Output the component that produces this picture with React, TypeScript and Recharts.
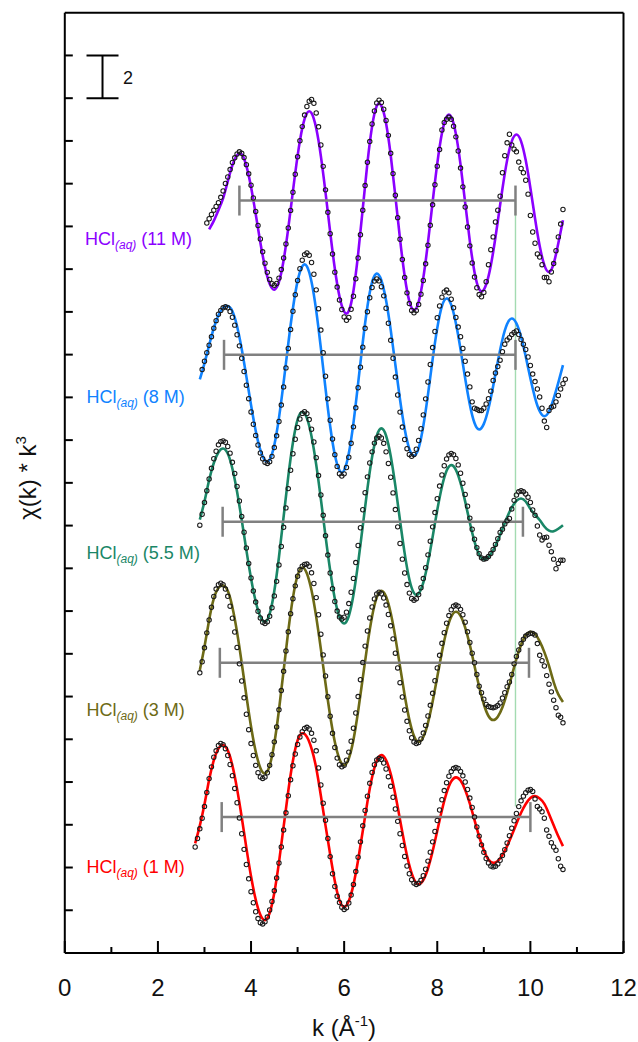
import React from "react";
import { ComposedChart, Line, Scatter, XAxis, YAxis, ErrorBar, ReferenceLine } from "recharts";

const FONT = "'Liberation Sans', Arial, sans-serif";

// k grid of the measured points (0.05 step) and of the fitted curves (0.1 step)
const kObs = [
  2.8, 2.85, 2.9, 2.95, 3, 3.05, 3.1, 3.15, 3.2, 3.25,
  3.3, 3.35, 3.4, 3.45, 3.5, 3.55, 3.6, 3.65, 3.7, 3.75,
  3.8, 3.85, 3.9, 3.95, 4, 4.05, 4.1, 4.15, 4.2, 4.25,
  4.3, 4.35, 4.4, 4.45, 4.5, 4.55, 4.6, 4.65, 4.7, 4.75,
  4.8, 4.85, 4.9, 4.95, 5, 5.05, 5.1, 5.15, 5.2, 5.25,
  5.3, 5.35, 5.4, 5.45, 5.5, 5.55, 5.6, 5.65, 5.7, 5.75,
  5.8, 5.85, 5.9, 5.95, 6, 6.05, 6.1, 6.15, 6.2, 6.25,
  6.3, 6.35, 6.4, 6.45, 6.5, 6.55, 6.6, 6.65, 6.7, 6.75,
  6.8, 6.85, 6.9, 6.95, 7, 7.05, 7.1, 7.15, 7.2, 7.25,
  7.3, 7.35, 7.4, 7.45, 7.5, 7.55, 7.6, 7.65, 7.7, 7.75,
  7.8, 7.85, 7.9, 7.95, 8, 8.05, 8.1, 8.15, 8.2, 8.25,
  8.3, 8.35, 8.4, 8.45, 8.5, 8.55, 8.6, 8.65, 8.7, 8.75,
  8.8, 8.85, 8.9, 8.95, 9, 9.05, 9.1, 9.15, 9.2, 9.25,
  9.3, 9.35, 9.4, 9.45, 9.5, 9.55, 9.6, 9.65, 9.7, 9.75,
  9.8, 9.85, 9.9, 9.95, 10, 10.05, 10.1, 10.15, 10.2, 10.25,
  10.3, 10.35, 10.4, 10.45, 10.5, 10.55, 10.6, 10.65, 10.7, 10.75,
];

const kFit = [
  2.8, 2.9, 3, 3.1, 3.2, 3.3, 3.4, 3.5, 3.6, 3.7,
  3.8, 3.9, 4, 4.1, 4.2, 4.3, 4.4, 4.5, 4.6, 4.7,
  4.8, 4.9, 5, 5.1, 5.2, 5.3, 5.4, 5.5, 5.6, 5.7,
  5.8, 5.9, 6, 6.1, 6.2, 6.3, 6.4, 6.5, 6.6, 6.7,
  6.8, 6.9, 7, 7.1, 7.2, 7.3, 7.4, 7.5, 7.6, 7.7,
  7.8, 7.9, 8, 8.1, 8.2, 8.3, 8.4, 8.5, 8.6, 8.7,
  8.8, 8.9, 9, 9.1, 9.2, 9.3, 9.4, 9.5, 9.6, 9.7,
  9.8, 9.9, 10, 10.1, 10.2, 10.3, 10.4, 10.5, 10.6, 10.7,
];

// chi(k)*k^3, measured
const obs1M = [
  -1.4, -1.0, -0.55, -0.05, 0.5, 1.15, 1.8, 2.35, 2.8, 3.1,
  3.35, 3.45, 3.39, 3.2, 2.88, 2.46, 1.94, 1.34, 0.67, -0.04,
  -0.78, -1.51, -2.22, -2.89, -3.49, -4.01, -4.43, -4.75, -4.94, -5.0,
  -4.9, -4.68, -4.35, -3.95, -3.45, -2.85, -2.15, -1.4, -0.6, 0.2,
  1.0, 1.75, 2.4, 2.95, 3.4, 3.75, 4.0, 4.15, 4.2, 4.12,
  3.92, 3.6, 3.1, 2.3, 1.5, 0.65, -0.15, -1.0, -1.85, -2.65,
  -3.25, -3.7, -4.0, -4.22, -4.32, -4.24, -4.02, -3.65, -3.15, -2.55,
  -1.88, -1.16, -0.41, 0.31, 0.98, 1.58, 2.09, 2.45, 2.67, 2.75,
  2.69, 2.53, 2.25, 1.89, 1.44, 0.93, 0.38, -0.2, -0.78, -1.33,
  -1.84, -2.29, -2.65, -2.93, -3.09, -3.15, -3.1, -2.96, -2.74, -2.44,
  -2.06, -1.64, -1.16, -0.67, -0.16, 0.33, 0.81, 1.24, 1.61, 1.91,
  2.13, 2.27, 2.32, 2.28, 2.14, 1.93, 1.64, 1.29, 0.89, 0.45,
  0.0, -0.46, -0.89, -1.3, -1.65, -1.94, -2.15, -2.29, -2.33, -2.3,
  -2.19, -2.02, -1.8, -1.53, -1.21, -0.87, -0.52, -0.17, 0.17, 0.49,
  0.76, 0.98, 1.14, 1.26, 1.29, 1.2, 0.85, 0.5, 0.38, 0.25,
  -0.05, -0.6, -0.9, -1.2, -1.4, -1.55, -1.95, -2.3, -2.45, null,
];

const obs3M = [
  null, null, -0.47, 0.05, 0.7, 1.4, 2.0, 2.6, 3.1, 3.45,
  3.65, 3.72, 3.65, 3.45, 3.11, 2.65, 2.09, 1.44, 0.72, -0.05,
  -0.85, -1.64, -2.41, -3.13, -3.78, -4.34, -4.8, -5.14, -5.34, -5.41,
  -5.35, -5.15, -4.8, -4.3, -3.7, -3.0, -2.2, -1.3, -0.4, 0.55,
  1.45, 2.3, 3.0, 3.6, 4.05, 4.35, 4.52, 4.6, 4.62, 4.52,
  4.21, 3.71, 3.05, 2.25, 1.34, 0.37, -0.62, -1.59, -2.5, -3.3,
  -3.96, -4.46, -4.77, -4.87, -4.79, -4.56, -4.18, -3.67, -3.06, -2.35,
  -1.58, -0.79, 0.01, 0.78, 1.49, 2.1, 2.61, 2.99, 3.22, 3.3,
  3.23, 3.03, 2.7, 2.26, 1.73, 1.12, 0.45, -0.24, -0.93, -1.6,
  -2.21, -2.74, -3.18, -3.51, -3.71, -3.78, -3.73, -3.56, -3.29, -2.93,
  -2.49, -1.99, -1.43, -0.84, -0.24, 0.35, 0.91, 1.41, 1.85, 2.21,
  2.48, 2.65, 2.7, 2.65, 2.5, 2.25, 1.9, 1.45, 0.95, 0.45,
  0.0, -0.55, -1.1, -1.4, -1.7, -1.95, -2.05, -2.08, -2.1, -2.07,
  -2.0, -1.88, -1.65, -1.4, -1.12, -0.9, -0.55, -0.05, 0.3, 0.6,
  0.9, 1.1, 1.25, 1.33, 1.38, 1.37, 1.3, 0.9, 0.35, 0.1,
  -0.15, -0.6, -1.0, -1.36, -1.75, -2.1, -2.45, -2.55, -2.81, null,
];

const obs55M = [
  null, null, -0.16, 0.35, 0.9, 1.45, 2.0, 2.5, 2.95, 3.3,
  3.6, 3.75, 3.78, 3.72, 3.52, 3.21, 2.78, 2.26, 1.65, 0.97,
  0.25, -0.49, -1.23, -1.95, -2.63, -3.24, -3.76, -4.19, -4.5, -4.7,
  -4.76, -4.68, -4.42, -4.02, -3.47, -2.79, -2.02, -1.16, -0.26, 0.65,
  1.55, 2.41, 3.18, 3.86, 4.41, 4.81, 5.07, 5.15, 5.06, 4.78,
  4.33, 3.73, 3.0, 2.16, 1.25, 0.3, -0.65, -1.56, -2.4, -3.13,
  -3.73, -4.18, -4.46, -4.55, -4.47, -4.23, -3.83, -3.3, -2.65, -1.91,
  -1.11, -0.28, 0.56, 1.36, 2.1, 2.75, 3.27, 3.68, 3.92, 4.0,
  3.92, 3.67, 3.27, 2.73, 2.08, 1.35, 0.57, -0.24, -1.02, -1.75,
  -2.4, -2.94, -3.34, -3.59, -3.67, -3.6, -3.41, -3.09, -2.66, -2.15,
  -1.55, -0.91, -0.24, 0.43, 1.08, 1.67, 2.19, 2.62, 2.94, 3.13,
  3.2, 3.14, 2.96, 2.66, 2.27, 1.8, 1.28, 0.73, 0.17, -0.35,
  -0.82, -1.21, -1.5, -1.69, -1.75, -1.72, -1.63, -1.49, -1.3, -1.06,
  -0.79, -0.5, -0.35, -0.1, 0.05, 0.15, 0.6, 1.0, 1.25, 1.4,
  1.45, 1.4, 1.3, 1.15, 0.9, 0.55, 0.3, -0.2, -0.62, -0.85,
  -0.75, -0.72, -1.1, -1.4, -1.75, -2.2, -1.95, -1.8, -1.8, null,
];

const obs8M = [
  null, null, null, -0.69, -0.3, 0.1, 0.45, 0.85, 1.25, 1.6,
  1.9, 2.08, 2.2, 2.25, 2.2, 2.03, 1.76, 1.39, 0.94, 0.42,
  -0.16, -0.78, -1.42, -2.05, -2.67, -3.25, -3.77, -4.22, -4.59, -4.86,
  -5.03, -5.08, -5.0, -4.75, -4.34, -3.79, -3.12, -2.35, -1.5, -0.61,
  0.3, 1.19, 2.04, 2.81, 3.48, 4.03, 4.43, 4.69, 4.77, 4.66,
  4.32, 3.77, 3.04, 2.16, 1.16, 0.1, -1.0, -2.06, -3.06, -3.94,
  -4.67, -5.22, -5.56, -5.67, -5.57, -5.27, -4.79, -4.14, -3.37, -2.48,
  -1.54, -0.58, 0.36, 1.24, 2.02, 2.67, 3.15, 3.45, 3.55, 3.46,
  3.19, 2.76, 2.18, 1.48, 0.68, -0.16, -1.04, -1.88, -2.68, -3.38,
  -3.96, -4.39, -4.66, -4.75, -4.66, -4.42, -4.01, -3.46, -2.81, -2.06,
  -1.27, -0.45, 0.34, 1.09, 1.74, 2.29, 2.7, 2.94, 3.03, 2.9,
  2.6, 2.2, 1.75, 1.3, 0.85, 0.3, -0.3, -0.9, -1.5, -2.2,
  -2.5, -2.55, -2.6, -2.6, -2.5, -2.3, -2.05, -1.7, -1.2, -0.85,
  -0.55, -0.25, 0.15, 0.5, 0.7, 0.8, 0.95, 1.05, 1.12, 0.95,
  0.72, 0.5, 0.25, -0.1, -0.5, -0.9, -1.25, -1.6, -1.97, -2.5,
  -3.1, -3.4, -2.6, -2.45, -2.4, -2.2, -1.9, -1.6, -1.35, -1.14,
];

const obs11M = [
  null, null, null, null, null, -1.05, -0.85, -0.65, -0.45, -0.28,
  -0.1, 0.15, 0.45, 0.8, 1.1, 1.45, 1.78, 2.0, 2.18, 2.28,
  2.21, 2.01, 1.68, 1.25, 0.72, 0.12, -0.51, -1.17, -1.8, -2.4,
  -2.93, -3.36, -3.69, -3.89, -3.96, -3.88, -3.63, -3.23, -2.69, -2.03,
  -1.28, -0.46, 0.39, 1.23, 2.05, 2.8, 3.46, 4.0, 4.4, 4.65,
  4.73, 4.55, 4.1, 3.45, 2.6, 1.6, 0.5, -0.55, -1.55, -2.5,
  -3.35, -4.05, -4.65, -5.1, -5.45, -5.6, -5.47, -5.09, -4.48, -3.66,
  -2.69, -1.6, -0.45, 0.7, 1.79, 2.76, 3.58, 4.19, 4.57, 4.7,
  4.59, 4.27, 3.75, 3.05, 2.21, 1.26, 0.25, -0.8, -1.81, -2.76,
  -3.6, -4.32, -4.82, -5.14, -5.25, -5.15, -4.86, -4.38, -3.74, -2.96,
  -2.09, -1.16, -0.2, 0.74, 1.61, 2.39, 3.3, 3.65, 3.8, 3.9,
  3.8, 3.48, 2.98, 2.32, 1.52, 0.64, -0.3, -1.24, -2.12, -2.92,
  -3.58, -4.08, -4.4, -4.5, -4.3, -3.8, -3.0, -2.3, -1.7, -1.0,
  -0.45, 0.2, 1.3, 2.1, 2.7, 3.1, 2.6, 2.4, 2.28, 1.8,
  1.5, 1.3, 0.95, 0.3, -0.7, -1.47, -2.0, -2.5, -2.64, -3.0,
  -3.6, -3.6, -3.8, -3.34, -2.95, -2.35, -1.7, -1.1, -0.42, null,
];

// chi(k)*k^3, fitted
const fit1M = [
  -1.23, -0.4, 0.6, 1.75, 2.65, 3.2, 3.37, 3.12, 2.41, 1.32,
  -0.01, -1.44, -2.77, -3.86, -4.57, -4.82, -4.49, -3.54, -2.12, -0.45,
  1.22, 2.64, 3.59, 3.92, 3.75, 3.2, 2.3, 1.0, -0.4, -1.75,
  -3.0, -3.9, -4.2, -3.93, -3.16, -2.01, -0.65, 0.71, 1.86, 2.63,
  2.9, 2.67, 2.02, 1.04, -0.12, -1.28, -2.26, -2.91, -3.14, -2.95,
  -2.41, -1.6, -0.64, 0.32, 1.13, 1.67, 1.86, 1.71, 1.27, 0.63,
  -0.14, -0.91, -1.55, -1.99, -2.14, -2.05, -1.78, -1.36, -0.85, -0.31,
  0.2, 0.61, 0.89, 0.98, 0.87, 0.62, 0.15, -0.38, -0.9, -1.36,
];

const fit3M = [
  null, -0.34, 0.75, 2.0, 3.0, 3.5, 3.62, 3.37, 2.6, 1.43,
  -0.01, -1.54, -2.98, -4.15, -4.92, -5.18, -4.81, -3.77, -2.21, -0.36,
  1.49, 3.05, 4.09, 4.46, 4.18, 3.38, 2.15, 0.64, -0.97, -2.48,
  -3.71, -4.51, -4.79, -4.48, -3.6, -2.27, -0.71, 0.85, 2.17, 3.06,
  3.37, 3.1, 2.33, 1.19, -0.17, -1.52, -2.66, -3.43, -3.7, -3.47,
  -2.81, -1.82, -0.66, 0.51, 1.5, 2.16, 2.39, 2.2, 1.65, 0.83,
  -0.15, -1.12, -1.94, -2.49, -2.68, -2.52, -2.08, -1.41, -0.62, 0.18,
  0.84, 1.29, 1.45, 1.35, 1.0, 0.5, -0.15, -0.9, -1.48, -1.83,
];

const fit55M = [
  null, 0.1, 0.95, 1.95, 2.75, 3.25, 3.43, 3.19, 2.48, 1.4,
  0.08, -1.33, -2.65, -3.73, -4.44, -4.68, -4.31, -3.24, -1.65, 0.24,
  2.12, 3.71, 4.78, 5.15, 4.85, 3.99, 2.67, 1.06, -0.67, -2.28,
  -3.6, -4.46, -4.76, -4.41, -3.42, -1.94, -0.2, 1.55, 3.03, 4.02,
  4.37, 4.03, 3.08, 1.68, 0.06, -1.48, -2.69, -3.34, -3.36, -2.85,
  -1.91, -0.71, 0.55, 1.64, 2.39, 2.65, 2.43, 1.82, 0.94, -0.05,
  -0.93, -1.54, -1.76, -1.65, -1.34, -0.88, -0.34, 0.21, 0.67, 0.98,
  1.09, 0.95, 0.6, 0.32, 0.08, -0.22, -0.42, -0.45, -0.33, -0.16,
];

const fit8M = [
  null, -1.15, -0.4, 0.45, 1.25, 1.85, 2.2, 2.28, 2.04, 1.34,
  0.27, -1.02, -2.35, -3.55, -4.45, -4.94, -4.91, -4.22, -2.95, -1.29,
  0.52, 2.18, 3.45, 4.14, 4.14, 3.41, 2.07, 0.31, -1.58, -3.34,
  -4.68, -5.41, -5.4, -4.61, -3.18, -1.34, 0.59, 2.26, 3.4, 3.8,
  3.48, 2.55, 1.17, -0.46, -2.09, -3.47, -4.4, -4.72, -4.36, -3.33,
  -1.86, -0.22, 1.25, 2.28, 2.64, 2.34, 1.48, 0.26, -1.11, -2.33,
  -3.19, -3.49, -3.23, -2.51, -1.47, -0.32, 0.72, 1.44, 1.7, 1.47,
  0.84, -0.08, -1.1, -2.01, -2.64, -2.87, -2.65, -2.05, -1.3, -0.48,
];

const fit11M = [
  null, null, null, -1.35, -0.95, -0.45, 0.1, 0.9, 1.65, 2.12,
  2.16, 1.62, 0.63, -0.63, -1.96, -3.11, -3.9, -4.17, -3.81, -2.79,
  -1.29, 0.44, 2.09, 3.38, 4.09, 4.09, 3.38, 2.08, 0.37, -1.48,
  -3.19, -4.49, -5.2, -5.17, -4.22, -2.51, -0.38, 1.76, 3.47, 4.42,
  4.43, 3.62, 2.12, 0.21, -1.79, -3.53, -4.71, -5.13, -4.74, -3.62,
  -1.97, -0.07, 1.73, 3.15, 3.92, 3.92, 3.12, 1.68, -0.12, -1.91,
  -3.35, -4.15, -4.17, -3.55, -2.42, -0.97, 0.55, 1.88, 2.77, 3.09,
  2.77, 1.88, 0.59, -0.84, -2.13, -3.02, -3.34, -2.95, -2.0, -0.92,
];

// vertical offset of each trace and the fitted k range (grey bars)
const offsets = [35.21, 27.99, 20.18, 13.58, 6.36];
const rangeStart = [3.75, 3.42, 3.39, 3.33, 3.37];
const rangeEnd = [9.68, 9.68, 9.84, 9.97, 10.0];
const names = ["11 M", "8 M", "5.5 M", "3 M", "1 M"];

const markerK = 9.68;
const markerBottom = 6.85;

const xTicks = [0, 1, 2, 3, 4, 5, 6, 7, 8, 9, 10, 11, 12];
const yTicks = [2, 4, 6, 8, 10, 12, 14, 16, 18, 20, 22, 24, 26, 28, 30, 32, 34, 36, 38, 40, 42];

const colors = ["#8b00ff", "#1083ff", "#1a8767", "#6d6a16", "#ff0000"];
const labelPos = [
  { left: 85, top: 239 },
  { left: 86.5, top: 397 },
  { left: 86.5, top: 553 },
  { left: 86.5, top: 710 },
  { left: 86.5, top: 867 },
];

const obsAll = [obs11M, obs8M, obs55M, obs3M, obs1M];
const fitAll = [fit11M, fit8M, fit55M, fit3M, fit1M];

function toPoints(ks: number[], vals: (number | null)[], off: number) {
  const out: { k: number; v: number }[] = [];
  ks.forEach((k, i) => {
    const val = vals[i];
    if (val != null) out.push({ k, v: val + off });
  });
  return out;
}

const Ring = (p: any) => (
  <circle cx={p.cx} cy={p.cy} r={2.2} fill="none" stroke="#1a1a1a" strokeWidth={1.05} />
);
const Nothing = () => <g />;

function XTick(props: any) {
  const { x, y, payload } = props;
  const major = payload.value % 2 === 0;
  return (
    <g>
      <line x1={x} x2={x} y1={y} y2={y - (major ? 12 : 6)} stroke="#000" strokeWidth={2} />
      {major && (
        <text x={x} y={y + 43} textAnchor="middle" fontSize={24} fontFamily={FONT} fill="#111">
          {payload.value}
        </text>
      )}
    </g>
  );
}

function YTick(props: any) {
  const { x, y } = props;
  return <line x1={x} x2={x + 8} y1={y} y2={y} stroke="#000" strokeWidth={2} />;
}

export default function App() {
  const marker = [
    { k: markerK, v: offsets[0] },
    { k: markerK, v: markerBottom },
  ];
  return (
    <div style={{ position: "absolute", left: 0, top: 0, width: 638, height: 1042, background: "#fff", fontFamily: FONT }}>
      <ComposedChart width={638} height={1042} margin={{ top: 12.7, right: 14.5, bottom: 59, left: 4.8 }}>
        <XAxis
          dataKey="k"
          type="number"
          domain={[0, 12]}
          allowDataOverflow
          ticks={xTicks}
          interval={0}
          height={30}
          tickSize={0}
          tickMargin={0}
          tickLine={false}
          axisLine={{ stroke: "#000", strokeWidth: 2 }}
          tick={(p: any) => <XTick {...p} />}
        />
        <YAxis
          dataKey="v"
          type="number"
          domain={[0, 44]}
          allowDataOverflow
          ticks={yTicks}
          interval={0}
          width={60}
          tickSize={0}
          tickMargin={0}
          tickLine={false}
          axisLine={{ stroke: "#000", strokeWidth: 2 }}
          tick={(p: any) => <YTick {...p} />}
        />
        <ReferenceLine y={44} stroke="#000" strokeWidth={2} />
        <ReferenceLine x={12} stroke="#000" strokeWidth={2} />

        <Line data={marker} dataKey="v" type="linear" stroke="#a3dbb1" strokeWidth={1.4} dot={false} activeDot={false} isAnimationActive={false} />

        {fitAll.map((f, i) => (
          <Line
            key={"fit" + i}
            data={toPoints(kFit, f, offsets[i])}
            dataKey="v"
            type="natural"
            stroke={colors[i]}
            strokeWidth={2.6}
            dot={false}
            activeDot={false}
            isAnimationActive={false}
          />
        ))}

        {rangeStart.map((s, i) => (
          <Scatter
            key={"rng" + i}
            data={[{ k: (s + rangeEnd[i]) / 2, v: offsets[i], e: (rangeEnd[i] - s) / 2 }]}
            dataKey="v"
            shape={Nothing}
            isAnimationActive={false}
          >
            <ErrorBar dataKey="e" direction="x" width={15} stroke="#808080" strokeWidth={2.5} isAnimationActive={false} />
          </Scatter>
        ))}

        {obsAll.map((o, i) => (
          <Scatter key={"obs" + i} data={toPoints(kObs, o, offsets[i])} dataKey="v" shape={Ring} isAnimationActive={false} />
        ))}

        <Scatter data={[{ k: 0.81, v: 41, e: 1 }]} dataKey="v" shape={Nothing} isAnimationActive={false}>
          <ErrorBar dataKey="e" direction="y" width={16} stroke="#000" strokeWidth={2} isAnimationActive={false} />
        </Scatter>
      </ComposedChart>

      <div style={{ position: "absolute", left: 128, top: 78, transform: "translate(-50%, -50%)", fontSize: 18, lineHeight: 1, color: "#111" }}>2</div>

      {names.map((n, i) => (
        <div
          key={n}
          style={{
            position: "absolute",
            left: labelPos[i].left,
            top: labelPos[i].top,
            transform: "translateY(-50%)",
            color: colors[i],
            fontSize: 18,
            lineHeight: 1,
            whiteSpace: "nowrap",
          }}
        >
          HCl<span style={{ fontSize: 12, fontStyle: "italic", position: "relative", top: 4 }}>(aq)</span> ({n})
        </div>
      ))}

      <div style={{ position: "absolute", left: 344, top: 1028, transform: "translate(-50%, -50%)", fontSize: 24, lineHeight: 1, whiteSpace: "nowrap", color: "#111" }}>
        k (Å<span style={{ fontSize: 15, position: "relative", top: -10 }}>-1</span>)
      </div>

      <div style={{ position: "absolute", left: 28, top: 478, transform: "translate(-50%, -50%) rotate(-90deg)", fontSize: 24, lineHeight: 1, whiteSpace: "nowrap", color: "#111" }}>
        χ(k) * k<span style={{ fontSize: 15, position: "relative", top: -10 }}>3</span>
      </div>
    </div>
  );
}
